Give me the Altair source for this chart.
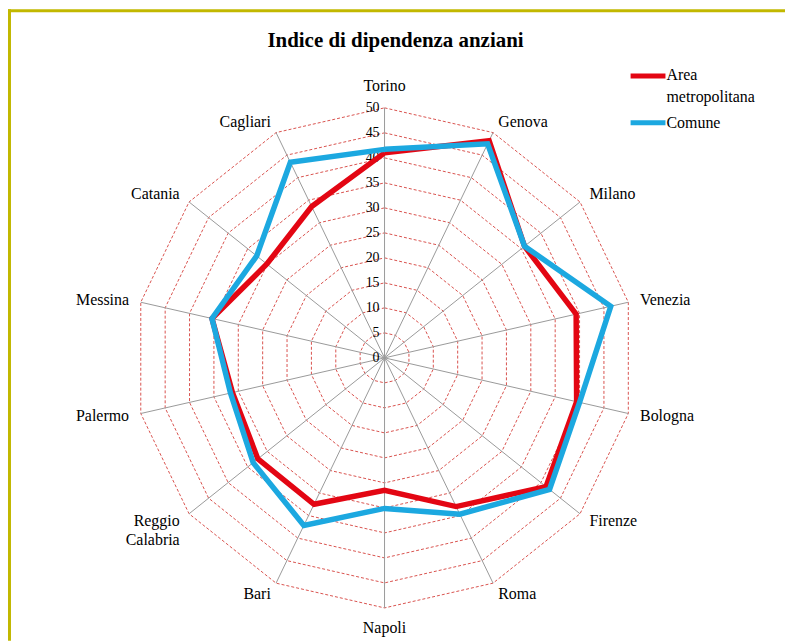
import altair as alt
import pandas as pd

# ---------------- data ----------------
cities = ["Torino", "Genova", "Milano", "Venezia", "Bologna", "Firenze", "Roma",
          "Napoli", "Bari", "Reggio Calabria", "Palermo", "Messina", "Catania", "Cagliari"]
area_metropolitana = [41.0, 48.2, 35.8, 39.3, 39.4, 41.3, 33.0,
                      26.5, 32.5, 32.4, 31.2, 35.4, 30.1, 33.6]
comune = [41.7, 47.5, 35.8, 46.4, 40.0, 42.2, 34.7,
          30.1, 37.2, 33.6, 31.6, 35.4, 32.7, 43.4]
series_names = ["Area metropolitana", "Comune"]
series_colors = ["#e30613", "#1ca8e0"]
ticks = [0, 5, 10, 15, 20, 25, 30, 35, 40, 45, 50]
title_text = "Indice di dipendenza anziani"

# ---------------- layout ----------------
W, H = 780, 634
CX, CY = 378, 350          # centre of radar in plot pixels
PPU = 251 / 50             # pixels per unit
XMIN, XMAX = -CX / PPU, (W - CX) / PPU
YMIN, YMAX = -(H - CY) / PPU, CY / PPU
N = len(cities)
RMAX = 50
LABEL_R = 52.4
FONT = "Liberation Serif"

xs = alt.Scale(domain=[XMIN, XMAX], nice=False, zero=False)
ys = alt.Scale(domain=[YMIN, YMAX], nice=False, zero=False)


def polar(chart, rfield="value"):
    return (chart
            .transform_calculate(ang=f"datum.idx*2*PI/{N}")
            .transform_calculate(px=f"datum.{rfield}*sin(datum.ang)")
            .transform_calculate(py=f"datum.{rfield}*cos(datum.ang)"))


# series table (closed polygons)
rows = []
for name, vals in zip(series_names, [area_metropolitana, comune]):
    for i in range(N + 1):
        rows.append({"series": name, "idx": i, "value": vals[i % N]})
series_df = pd.DataFrame(rows)

# grid rings
ring_rows = []
for r in ticks[1:]:
    for i in range(N + 1):
        ring_rows.append({"ring": r, "idx": i, "value": r})
ring_df = pd.DataFrame(ring_rows)

city_df = pd.DataFrame({"city": cities, "idx": list(range(N)), "value": [RMAX] * N,
                        "lab": [LABEL_R] * N})
tick_df = pd.DataFrame({"t": ticks, "zero": [0] * len(ticks)})

X = alt.X("px:Q", scale=xs, axis=None)
Y = alt.Y("py:Q", scale=ys, axis=None)

rings = polar(alt.Chart(ring_df)).mark_line(
    stroke="#d9534f", strokeWidth=1, strokeDash=[3, 2]
).encode(x=X, y=Y, detail="ring:N", order="idx:Q")

spokes = polar(alt.Chart(city_df)).transform_calculate(z="0").mark_rule(
    stroke="#9a9a9a", strokeWidth=1
).encode(x=alt.X("z:Q", scale=xs, axis=None), y=alt.Y("z:Q", scale=ys, axis=None),
         x2="px:Q", y2="py:Q")

tick_labels = alt.Chart(tick_df).mark_text(
    font=FONT, fontSize=14, align="right", baseline="middle", dx=-5, color="#000"
).encode(x=alt.X("zero:Q", scale=xs, axis=None), y=alt.Y("t:Q", scale=ys, axis=None),
         text="t:Q")

lines = polar(alt.Chart(series_df)).mark_line(strokeWidth=5.5, strokeJoin="miter").encode(
    x=X, y=Y, order="idx:Q",
    color=alt.Color("series:N", scale=alt.Scale(domain=series_names, range=series_colors),
                    legend=None),
)

LFS = 16
lab_base = polar(alt.Chart(city_df), "lab")
lab_right = lab_base.transform_filter("datum.idx >= 1 && datum.idx <= 6").mark_text(
    font=FONT, fontSize=LFS, align="left", baseline="middle", color="#000"
).encode(x=X, y=Y, text="city:N")
lab_left = lab_base.transform_filter("datum.idx >= 8").mark_text(
    font=FONT, fontSize=LFS, align="right", baseline="middle", color="#000",
    lineBreak=" ", lineHeight=19
).encode(x=X, y=Y, text="city:N")
lab_top = lab_base.transform_filter("datum.idx == 0").mark_text(
    font=FONT, fontSize=LFS, align="center", baseline="bottom", color="#000", dy=-2
).encode(x=X, y=Y, text="city:N")
lab_bottom = lab_base.transform_filter("datum.idx == 7").mark_text(
    font=FONT, fontSize=LFS, align="center", baseline="top", color="#000", dy=0
).encode(x=X, y=Y, text="city:N")

# manual legend
leg_df = pd.DataFrame({"series": series_names})
leg_red = alt.Chart(leg_df).transform_filter(f"datum.series == '{series_names[0]}'").mark_rule(
    strokeWidth=5, color=series_colors[0]
).encode(x=alt.value(625), x2=alt.value(660), y=alt.value(67))
leg_blue = alt.Chart(leg_df).transform_filter(f"datum.series == '{series_names[1]}'").mark_rule(
    strokeWidth=5, color=series_colors[1]
).encode(x=alt.value(625), x2=alt.value(660), y=alt.value(114))
leg_t1 = alt.Chart(leg_df).transform_filter(f"datum.series == '{series_names[0]}'").mark_text(
    font=FONT, fontSize=16, align="left", baseline="top", color="#000",
    lineBreak=" ", lineHeight=22
).encode(x=alt.value(661), y=alt.value(58), text="series:N")
leg_t2 = alt.Chart(leg_df).transform_filter(f"datum.series == '{series_names[1]}'").mark_text(
    font=FONT, fontSize=16, align="left", baseline="middle", color="#000"
).encode(x=alt.value(661), y=alt.value(114), text="series:N")

title = alt.Chart(leg_df).transform_filter(f"datum.series == '{series_names[0]}'").mark_text(
    font=FONT, fontSize=21, fontWeight="bold", align="center", baseline="middle", color="#000"
).encode(x=alt.value(389), y=alt.value(32), text=alt.value(title_text))

border_top = alt.Chart(leg_df).transform_filter(f"datum.series == '{series_names[0]}'").mark_rule(
    color="#c2b800", strokeWidth=3
).encode(x=alt.value(0), x2=alt.value(W), y=alt.value(1.5))
border_left = alt.Chart(leg_df).transform_filter(f"datum.series == '{series_names[0]}'").mark_rule(
    color="#c2b800", strokeWidth=3
).encode(x=alt.value(1.5), y=alt.value(0), y2=alt.value(H))

chart = alt.layer(
    rings, spokes, tick_labels, lines, lab_right, lab_left, lab_top, lab_bottom,
    leg_red, leg_blue, leg_t1, leg_t2, title, border_top, border_left
).properties(
    width=W, height=H, autosize=alt.AutoSizeParams(type="none"), padding=0,
    background="white"
).configure_view(stroke=None)

chart.save("out.html", embed_options={"renderer": "svg", "actions": False})
